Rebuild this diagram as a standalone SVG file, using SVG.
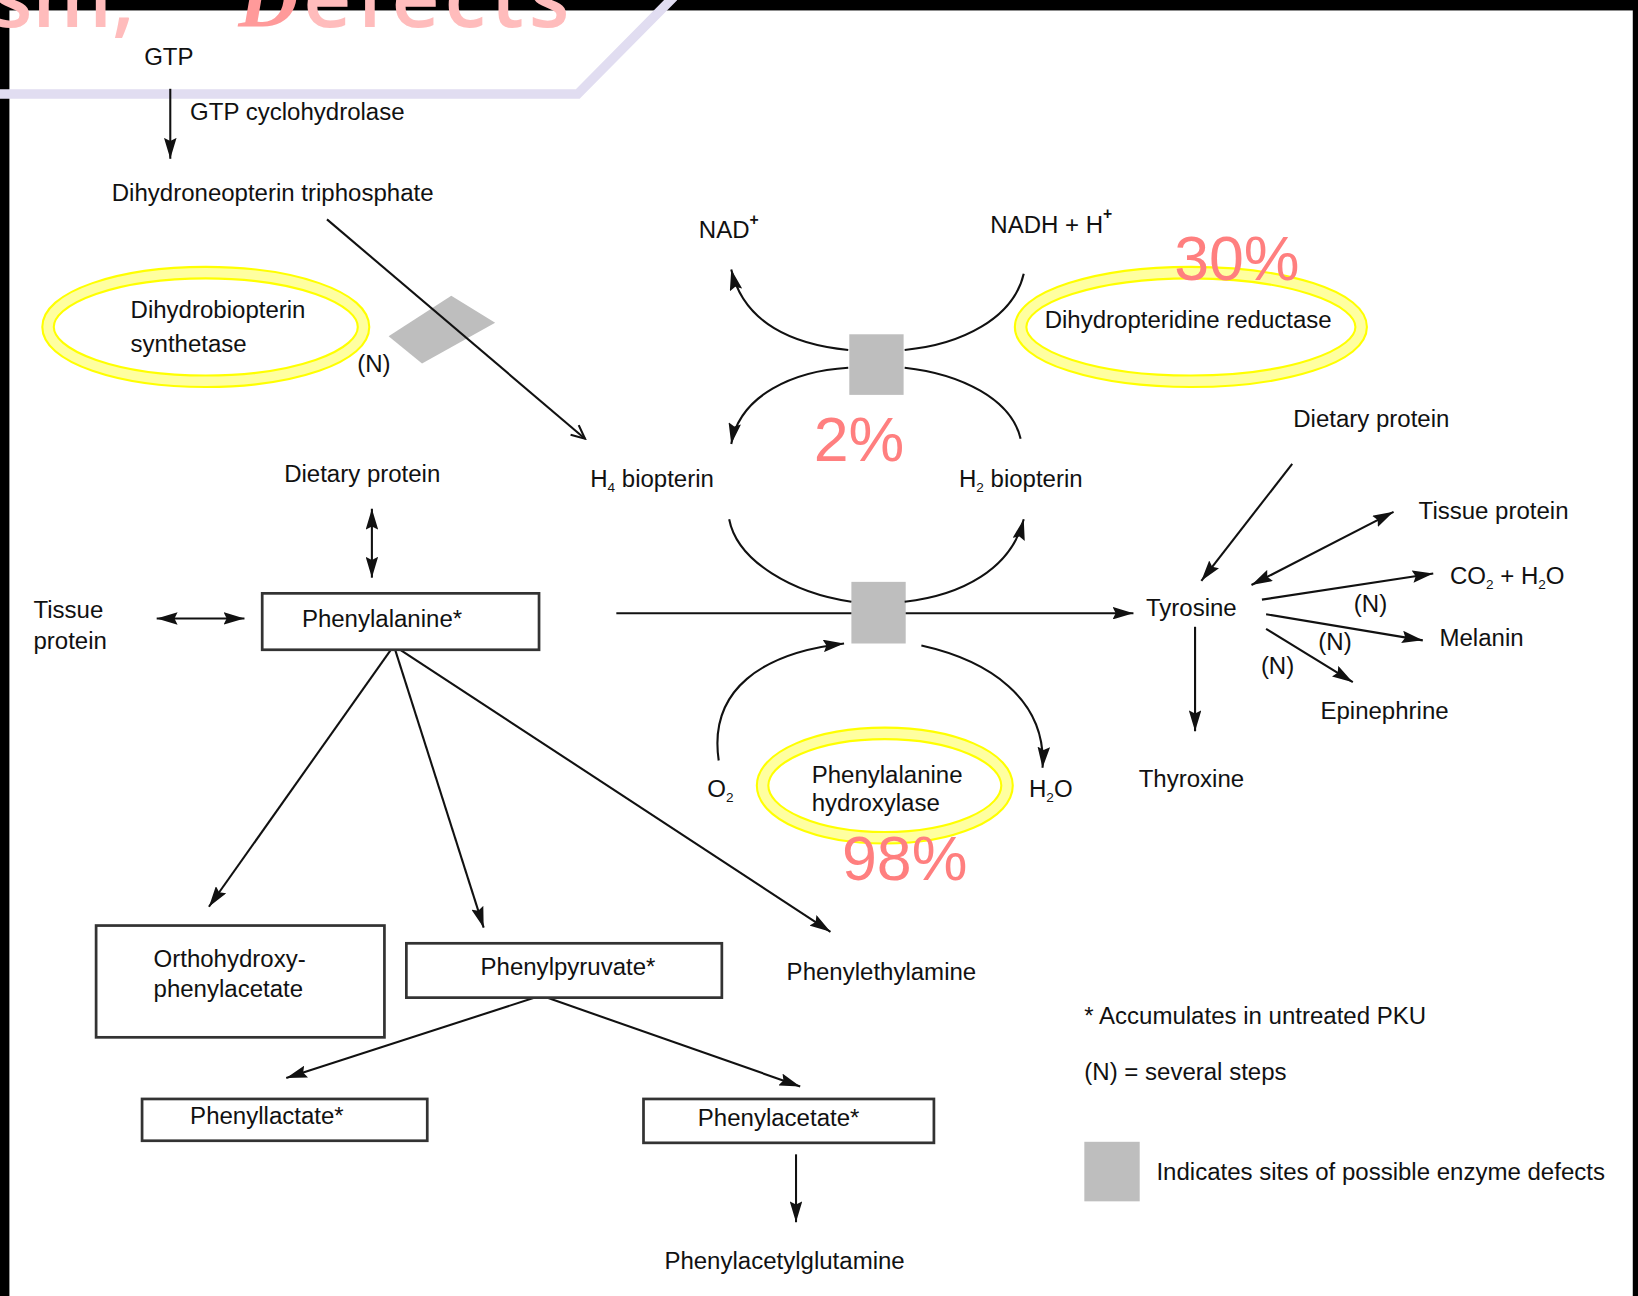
<svg xmlns="http://www.w3.org/2000/svg" width="1638" height="1296" viewBox="0 0 1638 1296">
<defs>
<style>
.t{font-family:"Liberation Sans",Arial,sans-serif;font-size:23px;fill:#111}
.sub{font-size:13px}
.sup{font-size:15px;font-weight:bold}
.pct{font-family:"Liberation Sans",Arial,sans-serif;font-size:60px;fill:#ff7f7f}
.c{fill:none;stroke:#111;stroke-width:2}
.box{fill:#fff;stroke:#333;stroke-width:2.6}
.defect{fill:#bebebe}
.ringo{fill:none;stroke:#ffff00;stroke-width:13}
.ringi{fill:none;stroke:#ffffa0;stroke-width:9}
.ttl{font-family:"Open Sans",sans-serif;font-weight:600;font-size:80px;fill:#ffbcbc}
</style>
<marker id="ah" markerUnits="userSpaceOnUse" markerWidth="21" markerHeight="12" refX="20" refY="6" orient="auto-start-reverse">
<path d="M0,0 L20,6 L0,12 L3,6 z" fill="#111"/>
</marker>
<marker id="oa" markerUnits="userSpaceOnUse" markerWidth="16" markerHeight="14" refX="14" refY="7" orient="auto">
<path d="M1,1 L14,7 L1,13" fill="none" stroke="#111" stroke-width="2"/>
</marker>
</defs>
<rect width="1638" height="1296" fill="#fff"/>
<g transform="scale(1.04464)">
<g id="frame">
<rect x="0" y="0" width="1568" height="10" fill="#000"/>
<rect x="0" y="0" width="9" height="1241" fill="#000"/>
<rect x="1563" y="0" width="5" height="1241" fill="#000"/>
<polyline points="0,90 553,90 645,-3" fill="none" stroke="#e1ddf1" stroke-width="9"/>
</g>

<g id="defect-sites">
<polygon class="defect" points="372,322 432,283 474,309 404,348"/>
<rect class="defect" x="813" y="320" width="52" height="58"/>
<rect class="defect" x="815" y="557" width="52" height="59"/>
</g>

<g id="connectors">
<line class="c" x1="163" y1="85" x2="163" y2="152" marker-end="url(#ah)"/>
<line class="c" x1="313" y1="210" x2="560" y2="420" marker-end="url(#oa)"/>
<path class="c" d="M812,335 C760,330 712,310 700,258" marker-end="url(#ah)"/>
<path class="c" d="M980,262 C970,305 920,330 866,335"/>
<path class="c" d="M812,352 C760,355 708,378 700,425" marker-end="url(#ah)"/>
<path class="c" d="M866,352 C920,358 968,382 977,420"/>
<line class="c" x1="590" y1="587" x2="815" y2="587"/>
<line class="c" x1="867" y1="587" x2="1085" y2="587" marker-end="url(#ah)"/>
<path class="c" d="M698,497 C706,538 760,568 815,576"/>
<path class="c" d="M866,576 C920,570 968,545 980,497" marker-end="url(#ah)"/>
<path class="c" d="M688,728 C678,660 730,625 808,616" marker-end="url(#ah)"/>
<path class="c" d="M882,618 C945,632 1002,668 998,735" marker-end="url(#ah)"/>
<line class="c" x1="356" y1="487" x2="356" y2="553" marker-start="url(#ah)" marker-end="url(#ah)"/>
<line class="c" x1="150" y1="592" x2="234" y2="592" marker-start="url(#ah)" marker-end="url(#ah)"/>
<line class="c" x1="377" y1="618" x2="200" y2="868" marker-end="url(#ah)"/>
<line class="c" x1="377" y1="618" x2="463" y2="888" marker-end="url(#ah)"/>
<line class="c" x1="377" y1="618" x2="795" y2="892" marker-end="url(#ah)"/>
<line class="c" x1="518" y1="953" x2="274" y2="1032" marker-end="url(#ah)"/>
<line class="c" x1="518" y1="953" x2="766" y2="1040" marker-end="url(#ah)"/>
<line class="c" x1="762" y1="1105" x2="762" y2="1170" marker-end="url(#ah)"/>
<line class="c" x1="1237" y1="444" x2="1150" y2="556" marker-end="url(#ah)"/>
<line class="c" x1="1198" y1="560" x2="1334" y2="490" marker-start="url(#ah)" marker-end="url(#ah)"/>
<line class="c" x1="1208" y1="574" x2="1372" y2="549" marker-end="url(#ah)"/>
<line class="c" x1="1212" y1="588" x2="1362" y2="613" marker-end="url(#ah)"/>
<line class="c" x1="1212" y1="602" x2="1295" y2="653" marker-end="url(#ah)"/>
<line class="c" x1="1144" y1="600" x2="1144" y2="700" marker-end="url(#ah)"/>
</g>

<g id="gtp"><text class="t" x="138" y="62">GTP</text></g>
<g id="gtp-cyclohydrolase"><text class="t" x="182" y="115">GTP cyclohydrolase</text></g>
<g id="dihydroneopterin"><text class="t" x="107" y="192">Dihydroneopterin triphosphate</text></g>

<g id="dihydrobiopterin-synthetase">
<ellipse class="ringo" cx="197" cy="313" rx="151" ry="52"/>
<ellipse class="ringi" cx="197" cy="313" rx="151" ry="52"/>
<text class="t" x="125" y="304">Dihydrobiopterin</text>
<text class="t" x="125" y="337">synthetase</text>
</g>
<g id="n-synthetase"><text class="t" x="342" y="356">(N)</text></g>

<g id="nad"><text class="t" x="669" y="228">NAD<tspan class="sup" dy="-13">+</tspan></text></g>
<g id="nadh"><text class="t" x="948" y="223">NADH + H<tspan class="sup" dy="-13">+</tspan></text></g>

<g id="dihydropteridine-reductase">
<ellipse class="ringo" cx="1140" cy="313" rx="163" ry="52"/>
<ellipse class="ringi" cx="1140" cy="313" rx="163" ry="52"/>
<text class="t" x="1000" y="314">Dihydropteridine reductase</text>
</g>
<g id="pct30"><text class="pct" x="1124" y="268">30%</text></g>
<g id="pct2"><text class="pct" x="779" y="441">2%</text></g>

<g id="h4-biopterin"><text class="t" x="565" y="466">H<tspan class="sub" dy="5">4</tspan><tspan dy="-5"> biopterin</tspan></text></g>
<g id="h2-biopterin"><text class="t" x="918" y="466">H<tspan class="sub" dy="5">2</tspan><tspan dy="-5"> biopterin</tspan></text></g>

<g id="dietary-protein-left"><text class="t" x="272" y="461">Dietary protein</text></g>
<g id="tissue-protein-left"><text class="t" x="32" y="592">Tissue</text><text class="t" x="32" y="621">protein</text></g>
<g id="phenylalanine">
<rect class="box" x="251" y="568" width="265" height="54"/>
<text class="t" x="289" y="600">Phenylalanine*</text>
</g>

<g id="phenylalanine-hydroxylase">
<ellipse class="ringo" cx="847" cy="752" rx="117" ry="50"/>
<ellipse class="ringi" cx="847" cy="752" rx="117" ry="50"/>
<text class="t" x="777" y="750">Phenylalanine</text>
<text class="t" x="777" y="776">hydroxylase</text>
</g>
<g id="pct98"><text class="pct" x="806" y="842">98%</text></g>
<g id="o2"><text class="t" x="677" y="763">O<tspan class="sub" dy="5">2</tspan></text></g>
<g id="h2o"><text class="t" x="985" y="763">H<tspan class="sub" dy="5">2</tspan><tspan dy="-5">O</tspan></text></g>

<g id="tyrosine"><text class="t" x="1097" y="590">Tyrosine</text></g>
<g id="dietary-protein-right"><text class="t" x="1238" y="409">Dietary protein</text></g>
<g id="tissue-protein-right"><text class="t" x="1358" y="497">Tissue protein</text></g>
<g id="co2-h2o"><text class="t" x="1388" y="559">CO<tspan class="sub" dy="5">2</tspan><tspan dy="-5"> + H</tspan><tspan class="sub" dy="5">2</tspan><tspan dy="-5">O</tspan></text></g>
<g id="melanin"><text class="t" x="1378" y="618">Melanin</text></g>
<g id="epinephrine"><text class="t" x="1264" y="688">Epinephrine</text></g>
<g id="thyroxine"><text class="t" x="1090" y="753">Thyroxine</text></g>
<g id="n-labels">
<text class="t" x="1296" y="586">(N)</text>
<text class="t" x="1262" y="622">(N)</text>
<text class="t" x="1207" y="645">(N)</text>
</g>

<g id="orthohydroxyphenylacetate">
<rect class="box" x="92" y="886" width="276" height="107"/>
<text class="t" x="147" y="926">Orthohydroxy-</text>
<text class="t" x="147" y="954">phenylacetate</text>
</g>
<g id="phenylpyruvate">
<rect class="box" x="389" y="903" width="302" height="52"/>
<text class="t" x="460" y="933">Phenylpyruvate*</text>
</g>
<g id="phenylethylamine"><text class="t" x="753" y="938">Phenylethylamine</text></g>
<g id="phenyllactate">
<rect class="box" x="136" y="1052" width="273" height="40"/>
<text class="t" x="182" y="1076">Phenyllactate*</text>
</g>
<g id="phenylacetate">
<rect class="box" x="616" y="1052" width="278" height="42"/>
<text class="t" x="668" y="1078">Phenylacetate*</text>
</g>
<g id="phenylacetylglutamine"><text class="t" x="636" y="1215">Phenylacetylglutamine</text></g>

<g id="legend">
<text class="t" x="1038" y="980">*  Accumulates in untreated PKU</text>
<text class="t" x="1038" y="1034">(N) = several steps</text>
<rect class="defect" x="1038" y="1093" width="53" height="57"/>
<text class="t" x="1107" y="1130">Indicates sites of possible enzyme defects</text>
</g>

<g id="title">
<text class="ttl" x="-8" y="26">sm,</text>
<text class="ttl" x="228" y="26" textLength="317"><tspan font-family="'Liberation Serif',serif" font-style="italic" fill="#ff9a9a">D</tspan>efects</text>
</g>
</g>
</svg>
